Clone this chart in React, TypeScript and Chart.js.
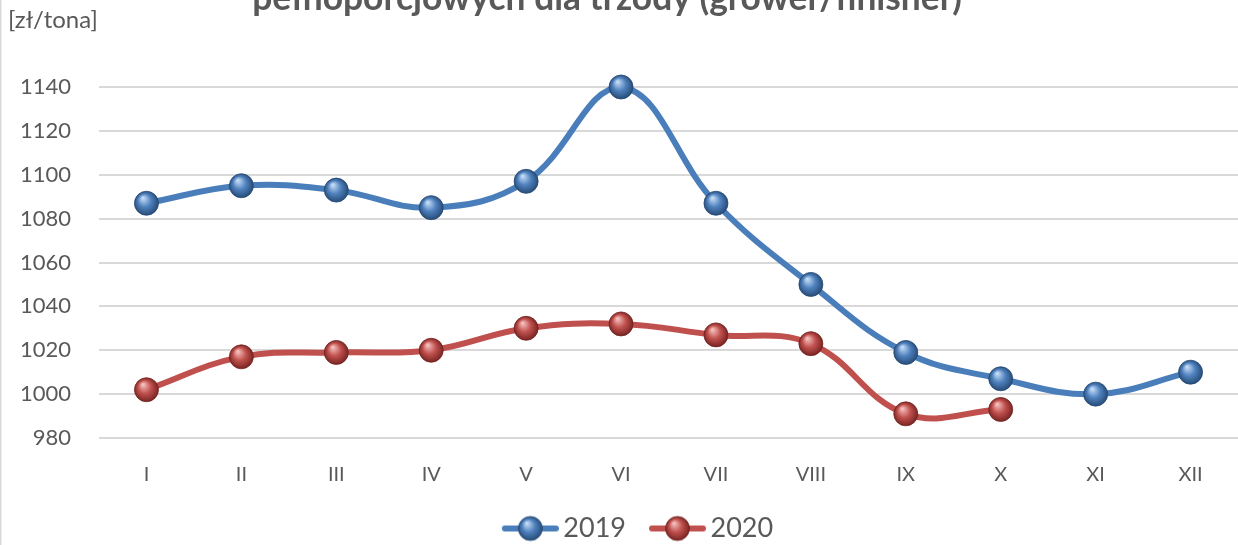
import React, { useEffect, useRef } from "react";
import { Chart, registerables } from "chart.js";

Chart.register(...registerables);

// ---------- data ----------
const months = ["I", "II", "III", "IV", "V", "VI", "VII", "VIII", "IX", "X", "XI", "XII"];
const values2019 = [1087, 1095, 1093, 1085, 1097, 1140, 1087, 1050, 1019, 1007, 1000, 1010];
const values2020 = [1002, 1017, 1019, 1020, 1030, 1032, 1027, 1023, 991, 993, null, null];
const seriesLabels = ["2019", "2020"];
const yMin = 980;
const yMax = 1140;
const yStep = 20;
const titleText = "pełnoporcjowych dla trzody (grower/finisher)";
const unitLabel = "[zł/tona]";

// ---------- styles ----------
const FONT = "Lato, 'Open Sans', sans-serif";
const TEXT = "#595959";
const BLUE = { base: "#4f81bd", light: "#c4dcf7", dark: "#244873", line: "#4a7ebb" };
const RED = { base: "#c0504d", light: "#f5c0be", dark: "#732220", line: "#c0504d" };
const POINT_R = 12;

function sphereFill(ctx: CanvasRenderingContext2D, x: number, y: number, r: number, c: any) {
  const g = ctx.createRadialGradient(x - r * 0.3, y - r * 0.45, r * 0.05, x, y, r * 1.05);
  g.addColorStop(0, c.light);
  g.addColorStop(0.5, c.base);
  g.addColorStop(1, c.dark);
  return g;
}

// legend symbol: line + sphere, shifted right inside the image
function legendImage(c: any) {
  const lead = 12;
  const L = 57;
  const W = lead + L;
  const H = 28;
  const cv = document.createElement("canvas");
  cv.width = W;
  cv.height = H;
  const ctx = cv.getContext("2d")!;
  ctx.strokeStyle = c.line;
  ctx.lineWidth = 6;
  ctx.lineCap = "round";
  ctx.beginPath();
  ctx.moveTo(lead + 3, H / 2);
  ctx.lineTo(W - 3, H / 2);
  ctx.stroke();
  const r = 12;
  const cx = lead + L / 2;
  ctx.fillStyle = sphereFill(ctx, cx, H / 2, r, c);
  ctx.beginPath();
  ctx.arc(cx, H / 2, r, 0, Math.PI * 2);
  ctx.fill();
  ctx.strokeStyle = c.dark;
  ctx.lineWidth = 0.8;
  ctx.stroke();
  return cv;
}

function pointFill(c: any) {
  return (ctx: any) => {
    if (ctx.type !== "data") return c.base;
    const chart = ctx.chart;
    const xs = chart.scales.x;
    const ys = chart.scales.y;
    if (!xs || !ys || !ctx.parsed || ctx.parsed.y == null) return c.base;
    const px = xs.getPixelForValue(ctx.dataIndex);
    const py = ys.getPixelForValue(ctx.parsed.y);
    if (!isFinite(px) || !isFinite(py)) return c.base;
    return sphereFill(chart.ctx, px, py, POINT_R, c);
  };
}

const decorPlugin = {
  id: "decor",
  afterLayout(chart: any) {
    // shift the legend box so it is centred slightly right of the canvas centre
    if (chart.legend) {
      chart.legend.left = 34;
    }
  },
  afterDraw(chart: any) {
    const ctx = chart.ctx as CanvasRenderingContext2D;
    ctx.save();
    // left frame line
    ctx.strokeStyle = "#d9d9d9";
    ctx.lineWidth = 1.5;
    ctx.beginPath();
    ctx.moveTo(0.75, 0);
    ctx.lineTo(0.75, chart.height);
    ctx.stroke();
    // clipped title (second line)
    let size = 28;
    ctx.font = `bold ${size}px ${FONT}`;
    const w = ctx.measureText(titleText).width;
    size = size * (710 / w);
    ctx.font = `bold ${size}px ${FONT}`;
    ctx.fillStyle = TEXT;
    ctx.textAlign = "center";
    ctx.textBaseline = "alphabetic";
    ctx.fillText(titleText, 607, 10);
    // unit label
    ctx.font = `24px ${FONT}`;
    ctx.textAlign = "left";
    ctx.textBaseline = "middle";
    ctx.fillText(unitLabel, 8, 20);
    ctx.restore();
  },
};

export default function App() {
  const ref = useRef<HTMLCanvasElement | null>(null);

  useEffect(() => {
    document.body.style.margin = "0";
    const canvas = ref.current!;
    const chart = new Chart(canvas, {
      type: "line",
      data: {
        labels: months,
        datasets: [
          {
            label: seriesLabels[0],
            data: values2019,
            borderColor: BLUE.line,
            borderWidth: 6,
            tension: 0.4,
            clip: false,
            pointRadius: POINT_R,
            pointHoverRadius: POINT_R,
            pointBorderWidth: 0.8,
            pointBorderColor: BLUE.dark,
            pointBackgroundColor: pointFill(BLUE),
          },
          {
            label: seriesLabels[1],
            data: values2020,
            borderColor: RED.line,
            borderWidth: 6,
            tension: 0.4,
            clip: false,
            pointRadius: POINT_R,
            pointHoverRadius: POINT_R,
            pointBorderWidth: 0.8,
            pointBorderColor: RED.dark,
            pointBackgroundColor: pointFill(RED),
            spanGaps: false,
          },
        ],
      },
      options: {
        animation: false,
        responsive: false,
        maintainAspectRatio: false,
        layout: { autoPadding: false, padding: { top: 87, left: 0, right: 0, bottom: -7 } },
        elements: { point: { pointStyle: "circle" } },
        plugins: {
          title: { display: false },
          tooltip: { enabled: false },
          legend: {
            position: "bottom",
            labels: {
              font: { family: FONT, size: 27 },
              color: TEXT,
              usePointStyle: true,
              pointStyleWidth: 51,
              padding: 20,
              generateLabels: (ch: any) =>
                ch.data.datasets.map((ds: any, i: number) => ({
                  text: ds.label,
                  fillStyle: ds.borderColor,
                  strokeStyle: ds.borderColor,
                  lineWidth: 0,
                  pointStyle: legendImage(i === 0 ? BLUE : RED),
                  hidden: false,
                  datasetIndex: i,
                  fontColor: TEXT,
                })),
            },
          },
        },
        scales: {
          x: {
            offset: true,
            grid: { display: false, drawTicks: false },
            border: { display: false },
            ticks: { color: TEXT, font: { family: FONT, size: 20 }, padding: 25 },
            afterFit: (s: any) => {
              s.height = 57;
            },
          },
          y: {
            min: yMin,
            max: yMax,
            grid: { color: "#d9d9d9", lineWidth: 2, drawTicks: false },
            border: { display: false },
            ticks: {
              stepSize: yStep,
              color: TEXT,
              font: { family: FONT, size: 22 },
              padding: 28,
              callback: (v: any) => String(v),
            },
            afterFit: (s: any) => {
              s.width = 99;
            },
          },
        },
      },
      plugins: [decorPlugin],
    });
    return () => chart.destroy();
  }, []);

  return (
    <div style={{ position: "absolute", left: 0, top: 0, width: 1238, height: 545, background: "#fff" }}>
      <canvas ref={ref} width={1238} height={545} style={{ width: 1238, height: 545, display: "block" }} />
    </div>
  );
}
